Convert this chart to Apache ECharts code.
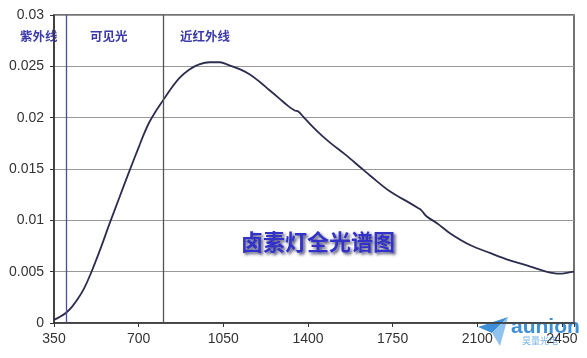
<!DOCTYPE html>
<html>
<head>
<meta charset="utf-8">
<script src="https://cdn.jsdelivr.net/npm/echarts@6/dist/echarts.min.js"></script>
<style>
html,body{margin:0;padding:0;background:#fff;}
#chart{width:587px;height:358px;}
</style>
</head>
<body>
<div id="chart"></div>
<script>
// wavelength (nm)
var wavelengths = [350, 375, 400, 425, 450, 475, 500, 540, 580, 620, 660, 700, 720, 745, 770, 790, 830, 870, 910, 950, 995, 1035, 1075, 1120, 1160, 1200, 1240, 1280, 1320, 1345, 1360, 1380, 1420, 1460, 1495, 1555, 1615, 1660, 1740, 1820, 1855, 1868, 1890, 1935, 1990, 2070, 2155, 2235, 2320, 2385, 2440, 2475, 2500];
// relative spectral intensity
var intensity = [0.0003, 0.0006, 0.0010, 0.0016, 0.0024, 0.0034, 0.0047, 0.0071, 0.0097, 0.0122, 0.0147, 0.0171, 0.0183, 0.0196, 0.0206, 0.0213, 0.0227, 0.0239, 0.0247, 0.0252, 0.0254, 0.0254, 0.0251, 0.0247, 0.0242, 0.0235, 0.0227, 0.0219, 0.0211, 0.0207, 0.0206, 0.0201, 0.0191, 0.0182, 0.0175, 0.0164, 0.0152, 0.0143, 0.0128, 0.0117, 0.0112, 0.0110, 0.0104, 0.0097, 0.0087, 0.0076, 0.0068, 0.0061, 0.0055, 0.0050, 0.0048, 0.0049, 0.0050];
// region boundaries (nm)
var boundaries = [400, 800];
var regionNames = ['紫外线', '可见光', '近红外线'];
var chartTitle = '卤素灯全光谱图';
var xTicks = [350, 700, 1050, 1400, 1750, 2100, 2450];
var yTicks = [0, 0.005, 0.01, 0.015, 0.02, 0.025, 0.03];

var data = wavelengths.map(function (w, i) { return [w, intensity[i]]; });

var chart = echarts.init(document.getElementById('chart'), null, {renderer: 'canvas'});
var labelFont = 'Liberation Sans, Arial, sans-serif';
var cjk = '"Noto Sans CJK SC", sans-serif';

chart.setOption({
  animation: false,
  backgroundColor: '#ffffff',
  grid: {left: 54, right: 13, top: 15, bottom: 35, show: true, borderColor: '#444', borderWidth: 1.5, backgroundColor: 'transparent'},
  xAxis: {
    type: 'value', min: 350, max: 2500, interval: 350,
    axisLine: {show: true, lineStyle: {color: '#333', width: 1.5}},
    axisTick: {show: true, length: 4, inside: false, lineStyle: {color: '#333'}},
    axisLabel: {
      color: '#333', fontSize: 14, fontFamily: labelFont, margin: 9,
      formatter: function (v) { return xTicks.indexOf(v) >= 0 ? String(v) : ''; }
    },
    splitLine: {show: false}
  },
  yAxis: {
    type: 'value', min: 0, max: 0.03, interval: 0.005,
    axisLine: {show: true, lineStyle: {color: '#333', width: 1.5}},
    axisTick: {show: true, length: 4, lineStyle: {color: '#333'}},
    axisLabel: {
      color: '#333', fontSize: 14, fontFamily: labelFont, margin: 10,
      formatter: function (v) { return String(parseFloat(v.toFixed(3))); }
    },
    splitLine: {show: true, lineStyle: {color: '#999', width: 1.2}}
  },
  series: [{
    type: 'line',
    data: data,
    smooth: 0.35,
    showSymbol: false,
    lineStyle: {color: '#2c2c4e', width: 1.8},
    markLine: {
      silent: true,
      symbol: ['none', 'none'],
      label: {show: false},
      data: [
        {xAxis: boundaries[0], lineStyle: {color: '#4c4ca0', width: 1.3, type: 'solid'}},
        {xAxis: boundaries[1], lineStyle: {color: '#555', width: 1.3, type: 'solid'}}
      ]
    }
  }],
  graphic: [
    {type: 'text', left: 20, top: 30, style: {text: regionNames[0], fill: '#3a3aa8', font: 'bold 12.5px ' + cjk}},
    {type: 'text', left: 90, top: 30, style: {text: regionNames[1], fill: '#3a3aa8', font: 'bold 12.5px ' + cjk}},
    {type: 'text', left: 180, top: 30, style: {text: regionNames[2], fill: '#3a3aa8', font: 'bold 12.5px ' + cjk}},
    {type: 'text', left: 241, top: 231, style: {text: chartTitle, fill: '#3232c8', font: 'bold 22px ' + cjk,
      textShadowColor: 'rgba(10,10,60,0.7)', textShadowBlur: 3, textShadowOffsetX: 2, textShadowOffsetY: 2}},
    // watermark
    {type: 'polygon', shape: {points: [[478, 327], [508, 317], [492, 333]]}, style: {fill: '#3d8fd8'}},
    {type: 'polygon', shape: {points: [[492, 333], [508, 317], [500, 346]]}, style: {fill: '#8fc3ee'}},
    {type: 'text', left: 511, top: 317, style: {text: 'aunion', fill: '#3d8fd8', font: 'bold 21px ' + labelFont}},
    {type: 'text', left: 522, top: 336, style: {text: '昊量光电', fill: '#7ab4e6', font: '9px ' + cjk}}
  ]
});
</script>
</body>
</html>
